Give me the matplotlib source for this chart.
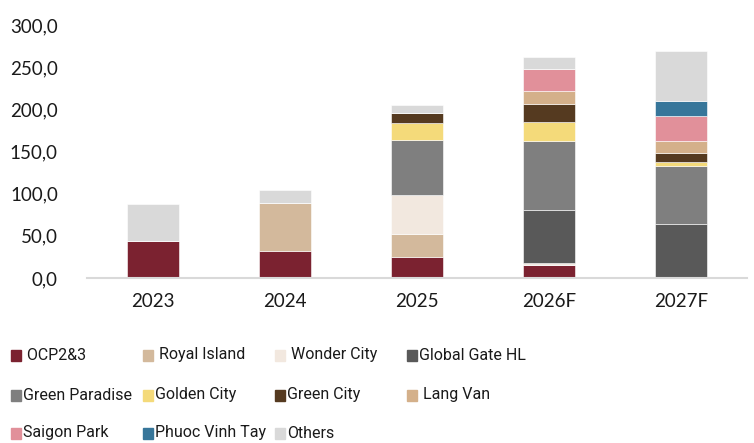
import numpy as np
import matplotlib.pyplot as plt
from matplotlib.patches import Rectangle

years = ['2023', '2024', '2025', '2026F', '2027F']

# stacked values per project, bottom to top
ocp = [44.4, 32.5, 24.6, 15.9, 0.0]
royal_island = [0.0, 57.0, 28.0, 0.0, 0.0]
wonder_city = [0.0, 0.0, 46.0, 1.5, 0.0]
global_gate = [0.0, 0.0, 0.0, 63.0, 64.0]
green_paradise = [0.0, 0.0, 65.0, 82.0, 68.6]
golden_city = [0.0, 0.0, 20.7, 22.2, 5.2]
green_city = [0.0, 0.0, 11.0, 21.9, 9.9]
lang_van = [0.0, 0.0, 0.0, 15.0, 15.0]
saigon_park = [0.0, 0.0, 0.0, 25.8, 29.0]
phuoc_vinh_tay = [0.0, 0.0, 0.0, 0.0, 18.6]
others = [43.0, 14.7, 10.4, 14.3, 58.4]

series = [
    ('OCP2&3', ocp, '#7B2230'),
    ('Royal Island', royal_island, '#D3B99C'),
    ('Wonder City', wonder_city, '#F2E8DF'),
    ('Global Gate HL', global_gate, '#595959'),
    ('Green Paradise', green_paradise, '#7F7F7F'),
    ('Golden City', golden_city, '#F4DA7A'),
    ('Green City', green_city, '#553A20'),
    ('Lang Van', lang_van, '#D4B08A'),
    ('Saigon Park', saigon_park, '#E1909A'),
    ('Phuoc Vinh Tay', phuoc_vinh_tay, '#37769A'),
    ('Others', others, '#D9D9D9'),
]

# legend text as shown (some entries carry a leading space)
legend_text = [' OCP2&3', ' Royal Island', ' Wonder City', 'Global Gate HL',
               'Green Paradise', 'Golden City', 'Green City', ' Lang Van',
               'Saigon Park', 'Phuoc Vinh Tay', 'Others']

tick_font = ['Lato', 'DejaVu Sans']
leg_font = ['Roboto', 'DejaVu Sans']

fig = plt.figure(figsize=(7.54, 4.43), dpi=100)
ax = fig.add_axes([0.1154, 0.3725, 0.8753, 0.5711])

x = np.arange(len(years))
bottom = np.zeros(len(years))
for name, vals, col in series:
    vals = np.array(vals)
    ax.bar(x, vals, 0.4, bottom=bottom, color=col, edgecolor='white',
           linewidth=0.4)
    bottom += vals

ax.set_xlim(-0.5, len(years) - 0.5)
ax.set_ylim(0, 300)
ax.set_yticks(np.arange(0, 301, 50))
ax.yaxis.set_major_formatter(plt.FuncFormatter(lambda v, p: ('%.1f' % v).replace('.', ',')))
ax.set_xticks(x)
ax.set_xticklabels(years)
for lab in ax.get_xticklabels() + ax.get_yticklabels():
    lab.set_family(tick_font)
    lab.set_fontsize(13.5)
    lab.set_color('#1a1a1a')
ax.tick_params(axis='both', length=0)
ax.tick_params(axis='x', pad=11)
ax.tick_params(axis='y', pad=21)
for s in ['top', 'right', 'left']:
    ax.spines[s].set_visible(False)
ax.spines['bottom'].set_color('#D9D9D9')
ax.spines['bottom'].set_linewidth(1.5)

# legend laid out on a 4-column grid
W, H = 754.0, 443.0
col_x = [11, 143, 275, 407]
row_y = [355, 395, 433]
for i, (name, vals, col) in enumerate(series):
    r, c = divmod(i, 4)
    px, py = col_x[c], row_y[r]
    fig.patches.append(Rectangle((px / W, (H - py - 5.5) / H), 10 / W, 11 / H,
                                 transform=fig.transFigure, color=col))
    fig.text((px + 12) / W, (H - py) / H, legend_text[i], family=leg_font,
             fontsize=11.5, va='center', ha='left', color='#1a1a1a')

fig.savefig('out.png', dpi=100)
